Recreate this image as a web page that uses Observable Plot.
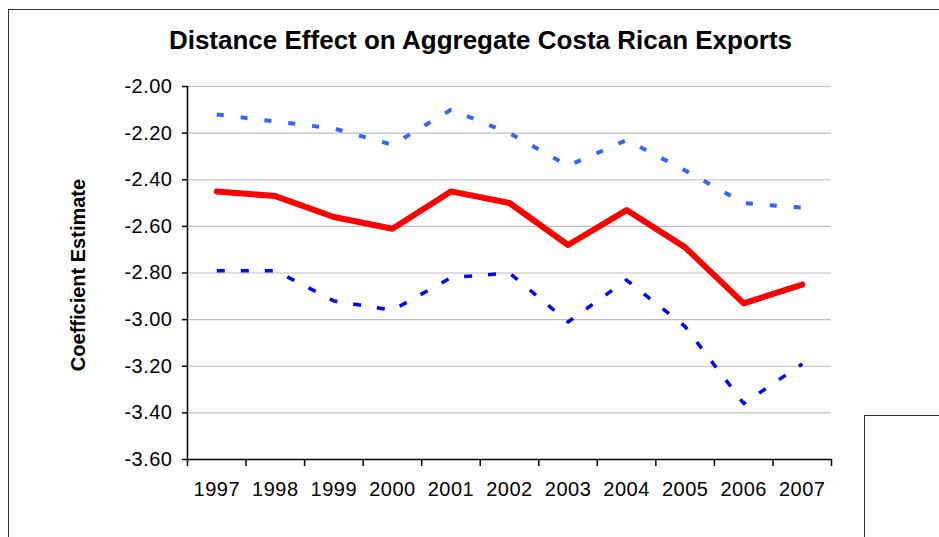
<!DOCTYPE html>
<html><head><meta charset="utf-8">
<script src="https://cdn.jsdelivr.net/npm/d3@7"></script>
<script src="https://cdn.jsdelivr.net/npm/@observablehq/plot@0.6"></script>
<style>
body{margin:0;background:#fff;}
#wrap{position:relative;width:939px;height:537px;overflow:hidden;font-family:"Liberation Sans",Arial,sans-serif;background:#fff;}
#chart{position:absolute;left:0;top:0;}
#title{position:absolute;left:0;width:961px;top:27px;line-height:26px;text-align:center;font-weight:bold;font-size:26px;color:#000;white-space:nowrap;}
#ylabel{position:absolute;left:78px;top:275px;line-height:20px;font-size:20px;font-weight:bold;color:#000;white-space:nowrap;transform:translate(-50%,-50%) rotate(-90deg);}
.fl{position:absolute;left:8px;top:9px;width:0;height:540px;border-left:1.5px solid #333;}
.ft{position:absolute;left:8px;top:9px;width:940px;height:0;border-top:1.5px solid #333;}
.box{position:absolute;left:864px;top:415px;width:100px;height:140px;border:1.5px solid #333;background:#fff;}
#chart svg text{letter-spacing:0.5px;}
</style></head>
<body>
<div id="wrap">
  <div class="fl"></div><div class="ft"></div>
  <div id="chart"></div>
  <div id="title">Distance Effect on Aggregate Costa Rican Exports</div>
  <div id="ylabel"></div>
  <div class="box"></div>
</div>
<script>
const years = [1997,1998,1999,2000,2001,2002,2003,2004,2005,2006,2007];
const estimate = [-2.45,-2.47,-2.56,-2.61,-2.45,-2.50,-2.68,-2.53,-2.69,-2.93,-2.85];
const upper = [-2.12,-2.15,-2.18,-2.25,-2.10,-2.20,-2.34,-2.23,-2.36,-2.50,-2.52];
const lower = [-2.79,-2.79,-2.92,-2.96,-2.82,-2.80,-3.01,-2.83,-3.03,-3.36,-3.19];
const yTicks = [-3.6,-3.4,-3.2,-3.0,-2.8,-2.6,-2.4,-2.2,-2.0];
const yLabel = "Coefficient Estimate";

document.getElementById("ylabel").textContent = yLabel;

const rows = years.map((year,i)=>({year, estimate:estimate[i], upper:upper[i], lower:lower[i]}));
const xDomain = [years[0]-0.5, years[years.length-1]+0.5];
const yDomain = [yTicks[0], yTicks[yTicks.length-1]];
const edges = [...years.map(y=>y-0.5), years[years.length-1]+0.5];

const chart = Plot.plot({
  width:939, height:537,
  marginLeft:187, marginRight:108, marginTop:86, marginBottom:78,
  x:{type:"linear", domain:xDomain},
  y:{domain:yDomain},
  style:{fontFamily:"'Liberation Sans', Arial, sans-serif", fontSize:"20px", color:"#000", background:"transparent", overflow:"visible"},
  marks:[
    Plot.gridY(yTicks,{stroke:"#c0c0c0", strokeOpacity:1, strokeWidth:1.2}),
    Plot.axisY(yTicks,{tickSize:5, tickPadding:10, tickFormat:d=>d.toFixed(2), label:null, strokeWidth:1.5, stroke:"#000", fontSize:20}),
    Plot.axisX(edges,{tickSize:7, tickFormat:()=>"", label:null, strokeWidth:1.5, stroke:"#000"}),
    Plot.axisX(years,{tickSize:0, tickPadding:22, tickFormat:d=>String(d), label:null, fontSize:20}),
    Plot.ruleX([xDomain[0]],{stroke:"#000", strokeWidth:1.5}),
    Plot.ruleY([yDomain[0]],{stroke:"#000", strokeWidth:1.5}),
    Plot.line(rows,{x:"year", y:"upper", stroke:"#3366ff", strokeWidth:4, strokeDasharray:"7,17", strokeLinecap:"butt"}),
    Plot.line(rows,{x:"year", y:"lower", stroke:"#0000ff", strokeWidth:3.5, strokeDasharray:"8,16", strokeLinecap:"butt"}),
    Plot.line(rows,{x:"year", y:"estimate", stroke:"#ff0000", strokeWidth:6, strokeLinejoin:"round", strokeLinecap:"round"})
  ]
});
document.getElementById("chart").appendChild(chart);
</script>
</body></html>
